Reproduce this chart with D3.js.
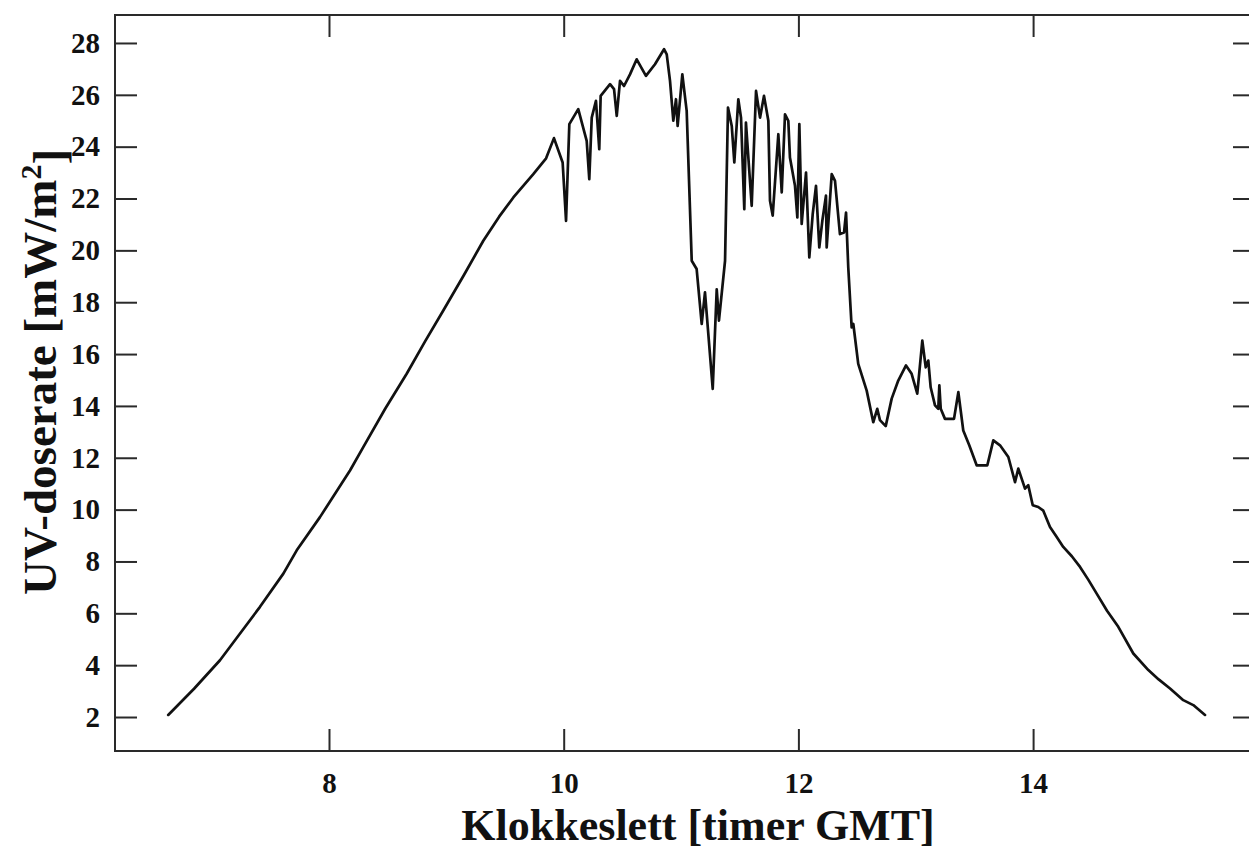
<!DOCTYPE html>
<html>
<head>
<meta charset="utf-8">
<script src="https://cdn.jsdelivr.net/npm/d3@7"></script>
<style>
  html, body { margin: 0; padding: 0; background: #fff; }
  svg { display: block; }
  text { font-family: "Liberation Serif", "Times New Roman", serif; font-weight: bold; fill: #111; }
</style>
</head>
<body>
<svg id="chart" width="1249" height="854"></svg>
<script>
// Time of day (hours GMT)
const times = [
  6.630, 6.850, 7.071, 7.242, 7.412, 7.611, 7.725, 7.923, 8.179, 8.292, 8.480, 8.662, 8.820, 8.974,
  9.150, 9.315, 9.450, 9.571, 9.741, 9.850, 9.917, 9.991,
  10.020, 10.048, 10.124, 10.196, 10.218, 10.239, 10.275, 10.303, 10.315, 10.395, 10.429, 10.452,
  10.480, 10.514, 10.565, 10.622, 10.701, 10.778, 10.855, 10.878, 10.906, 10.934, 10.957, 10.971,
  11.011, 11.048, 11.091, 11.133, 11.176, 11.204, 11.270, 11.304, 11.323, 11.375, 11.400, 11.432,
  11.454, 11.488, 11.511, 11.539, 11.553, 11.602, 11.639, 11.673, 11.707, 11.744, 11.758, 11.781,
  11.829, 11.858, 11.886, 11.914, 11.928, 11.971, 11.991, 12.008, 12.028, 12.065, 12.093, 12.122,
  12.150, 12.178, 12.204, 12.235, 12.241, 12.284, 12.312, 12.354, 12.389, 12.406, 12.425, 12.454,
  12.468, 12.510, 12.582, 12.638, 12.672, 12.695, 12.744, 12.795, 12.851, 12.917, 12.965, 13.013,
  13.056, 13.085, 13.107, 13.127, 13.164, 13.192, 13.201, 13.213, 13.249, 13.326, 13.363, 13.405,
  13.456, 13.519, 13.610, 13.661, 13.718, 13.789, 13.846, 13.874, 13.931, 13.959, 13.997, 14.044,
  14.087, 14.144, 14.200, 14.257, 14.330, 14.400, 14.470, 14.542, 14.630, 14.726, 14.854, 14.982,
  15.070, 15.167, 15.280, 15.365, 15.465
];
// UV dose rate (mW/m2)
const uvValues = [
  2.08, 3.09, 4.19, 5.22, 6.25, 7.53, 8.43, 9.71, 11.51, 12.41, 13.90, 15.24, 16.50, 17.68,
  19.05, 20.37, 21.30, 22.04, 22.94, 23.55, 24.33, 23.39,
  21.14, 24.87, 25.45, 24.22, 22.75, 25.12, 25.77, 23.90, 25.96, 26.41, 26.22, 25.19,
  26.54, 26.34, 26.79, 27.37, 26.73, 27.18, 27.76, 27.56, 26.54, 25.00, 25.83, 24.80,
  26.79, 25.38, 19.60, 19.28, 17.16, 18.38, 14.66, 18.50, 17.29, 19.60, 25.51, 24.80,
  23.39, 25.83, 25.12, 21.59, 24.93, 21.72, 26.15, 25.12, 25.96, 25.00, 21.91, 21.34,
  24.48, 22.24, 25.25, 25.00, 23.58, 22.49, 21.27, 24.87, 21.02, 23.00, 19.73, 21.40,
  22.49, 20.11, 21.14, 22.11, 20.11, 22.94, 22.68, 20.63, 20.69, 21.46, 19.34, 17.03,
  17.16, 15.62, 14.59, 13.37, 13.89, 13.45, 13.22, 14.28, 14.98, 15.56, 15.24, 14.47,
  16.52, 15.49, 15.75, 14.72, 14.02, 13.89, 14.79, 13.89, 13.50, 13.50, 14.53, 13.05,
  12.48, 11.71, 11.71, 12.67, 12.48, 12.03, 11.06, 11.58, 10.81, 10.94, 10.17, 10.10,
  9.96, 9.33, 8.95, 8.56, 8.20, 7.79, 7.30, 6.76, 6.10, 5.48, 4.45, 3.81,
  3.45, 3.10, 2.65, 2.46, 2.08
];
const xTicks = [8, 10, 12, 14];
const yTicks = [2, 4, 6, 8, 10, 12, 14, 16, 18, 20, 22, 24, 26, 28];
const xTitle = "Klokkeslett [timer GMT]";
const yTitleMain = "UV-doserate [mW/m";
const yTitleSup = "2";
const yTitleEnd = "]";

const svg = d3.select("#chart");
const plotLeft = 115, plotRight = 1255, plotTop = 15, plotBottom = 751;

const x = d3.scaleLinear().domain([6.1764, 15.891]).range([plotLeft, plotRight]);
const y = d3.scaleLinear().domain([0.689, 29.079]).range([plotBottom, plotTop]);

const tickLen = 22;
const frameColor = "#2a2a2a";

// axes
const gLeft = svg.append("g").attr("transform", `translate(${plotLeft},0)`)
  .call(d3.axisLeft(y).tickValues(yTicks).tickSize(-tickLen).tickPadding(15).tickFormat(d3.format("d")));
const gRight = svg.append("g").attr("transform", `translate(${plotRight},0)`)
  .call(d3.axisRight(y).tickValues(yTicks).tickSize(-tickLen).tickFormat(""));
const gBottom = svg.append("g").attr("transform", `translate(0,${plotBottom})`)
  .call(d3.axisBottom(x).tickValues(xTicks).tickSize(-tickLen).tickPadding(21).tickFormat(d3.format("d")));
const gTop = svg.append("g").attr("transform", `translate(0,${plotTop})`)
  .call(d3.axisTop(x).tickValues(xTicks).tickSize(-tickLen).tickFormat(""));

[gLeft, gRight, gBottom, gTop].forEach(g => {
  g.attr("font-size", 29).attr("font-family", '"Liberation Serif", "Times New Roman", serif');
  g.select(".domain").remove();
  g.selectAll(".tick line").attr("stroke", frameColor).attr("stroke-width", 2);
  g.selectAll(".tick text")
    .attr("fill", "#111")
    .attr("font-weight", "bold")
    .attr("font-size", 29);
});

// frame
svg.append("rect")
  .attr("x", plotLeft).attr("y", plotTop)
  .attr("width", plotRight - plotLeft).attr("height", plotBottom - plotTop)
  .attr("fill", "none").attr("stroke", frameColor).attr("stroke-width", 2);

// data line
const pts = times.map((t, i) => [t, uvValues[i]]);
svg.append("path")
  .datum(pts)
  .attr("fill", "none")
  .attr("stroke", "#111")
  .attr("stroke-width", 2.7)
  .attr("stroke-linejoin", "round")
  .attr("stroke-linecap", "round")
  .attr("d", d3.line().x(d => x(d[0])).y(d => y(d[1])));

// x title
svg.append("text")
  .attr("x", 698).attr("y", 840)
  .attr("text-anchor", "middle")
  .style("font-size", "44px")
  .text(xTitle);

// y title
const yt = svg.append("text")
  .attr("transform", "translate(56,372) rotate(-90)")
  .attr("text-anchor", "middle")
  .style("font-size", "47px");
yt.append("tspan").text(yTitleMain);
yt.append("tspan").attr("dy", "-0.5em").style("font-size", "30px").text(yTitleSup);
yt.append("tspan").attr("dy", "0.5em").text(yTitleEnd);
</script>
</body>
</html>
